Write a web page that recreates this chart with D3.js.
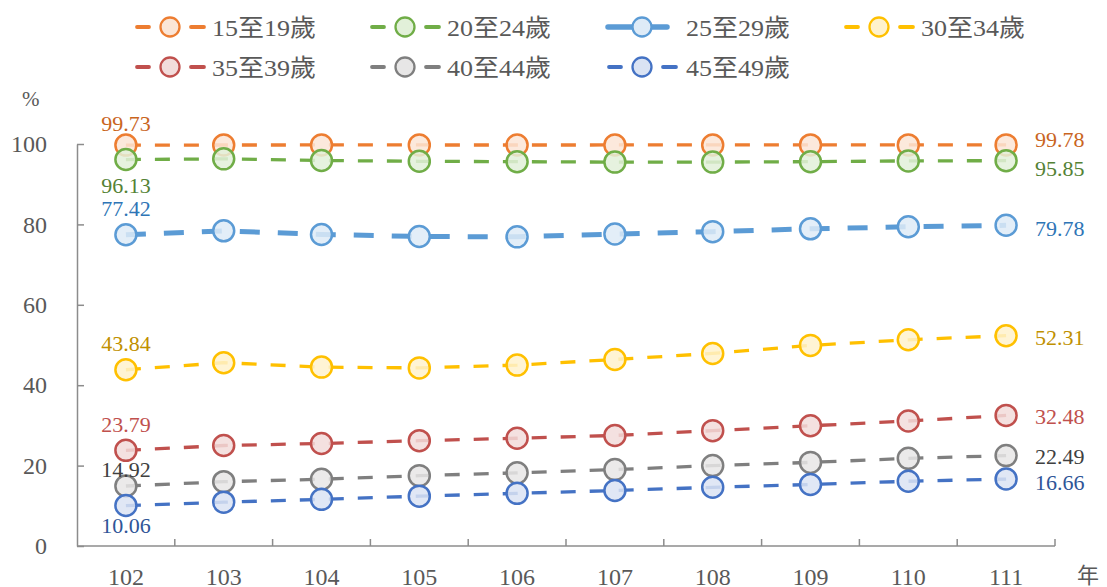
<!DOCTYPE html>
<html lang="zh-Hant">
<head>
  <meta charset="UTF-8">
  <title>各年齡層比例</title>
  <style>
    body { margin: 0; background: #fff; }
    svg text { font-family: "Liberation Serif", "Times New Roman", "Noto Sans CJK TC", serif; }
  </style>
  <script src="https://d3js.org/d3.v7.min.js"></script>
</head>
<body>
  <svg id="chart" width="1107" height="587"></svg>

  <script>
    // data
    const years = ['102', '103', '104', '105', '106', '107', '108', '109', '110', '111'];
    const seriesNames = ['15至19歲', '20至24歲', '25至29歲', '30至34歲', '35至39歲', '40至44歲', '45至49歲'];
    const s15to19 = [99.73, 99.75, 99.76, 99.76, 99.75, 99.76, 99.76, 99.77, 99.77, 99.78];
    const s20to24 = [96.13, 96.3, 95.9, 95.7, 95.6, 95.5, 95.5, 95.6, 95.8, 95.85];
    const s25to29 = [77.42, 78.4, 77.5, 77.0, 76.9, 77.6, 78.2, 78.9, 79.4, 79.78];
    const s30to34 = [43.84, 45.6, 44.5, 44.3, 45.0, 46.4, 47.9, 49.9, 51.3, 52.31];
    const s35to39 = [23.79, 25.0, 25.5, 26.2, 26.8, 27.5, 28.7, 29.9, 31.1, 32.48];
    const s40to44 = [14.92, 16.0, 16.6, 17.5, 18.2, 19.0, 20.0, 20.8, 21.8, 22.49];
    const s45to49 = [10.06, 10.9, 11.6, 12.4, 13.1, 13.8, 14.6, 15.3, 16.1, 16.66];
    const yTicks = [0, 20, 40, 60, 80, 100];

    const allValues = [s15to19, s20to24, s25to29, s30to34, s35to39, s40to44, s45to49];

    // look of each series: line colour, marker fill, label colour, line width, dash, label offsets
    const styles = [
      { c: '#ED7D31', f: '#FBE5D6', t: '#C9651E', w: 3.3, dash: '15,14', first: -22, last: -5 },
      { c: '#70AD47', f: '#E2F0D9', t: '#548235', w: 3.3, dash: '15,14', first: 26, last: 8 },
      { c: '#5B9BD5', f: '#DEEBF7', t: '#2E75B6', w: 5, dash: '20,18', first: -26, last: 3 },
      { c: '#FFC000', f: '#FFF2CC', t: '#BF9000', w: 3.3, dash: '15,14', first: -26, last: 2 },
      { c: '#C0504D', f: '#F2DCDB', t: '#C0504D', w: 3.3, dash: '15,14', first: -26, last: 1 },
      { c: '#7F7F7F', f: '#E7E6E6', t: '#404040', w: 3.3, dash: '15,14', first: -17, last: 1 },
      { c: '#4472C4', f: '#DAE3F3', t: '#2F5597', w: 3.3, dash: '15,14', first: 20, last: 3 }
    ];

    const series = seriesNames.map((name, i) => ({ name, values: allValues[i], style: styles[i] }));

    const svg = d3.select('#chart');
    const axisColor = '#8C8C8C';
    const textColor = '#595959';
    const serif = '"Liberation Serif", "Times New Roman", serif';

    const x = d3.scaleBand().domain(years).range([77, 1055]);
    const cx = d => x(d) + x.bandwidth() / 2;
    const y = d3.scaleLinear().domain([0, 100]).range([546, 144]);

    // y axis
    const yAxis = svg.append('g')
      .attr('transform', 'translate(77,0)')
      .call(d3.axisLeft(y).tickValues(yTicks).tickSizeInner(-7).tickSizeOuter(0).tickPadding(30));
    yAxis.select('.domain').attr('stroke', axisColor).attr('stroke-width', 1.5);
    yAxis.selectAll('.tick line').attr('stroke', axisColor).attr('stroke-width', 1.5);
    yAxis.selectAll('.tick text')
      .style('font-family', serif)
      .style('font-size', '24px')
      .attr('fill', textColor);

    // x axis (ticks on category boundaries, pointing up)
    const xAxis = svg.append('g').attr('transform', 'translate(0,546)');
    xAxis.append('line')
      .attr('x1', x.range()[0]).attr('x2', x.range()[1])
      .attr('stroke', axisColor).attr('stroke-width', 1.5);
    xAxis.selectAll('line.b')
      .data(years.map((d, i) => i + 1))
      .join('line')
      .attr('class', 'b')
      .attr('x1', i => x.range()[0] + i * x.step())
      .attr('x2', i => x.range()[0] + i * x.step())
      .attr('y1', 0).attr('y2', -7)
      .attr('stroke', axisColor).attr('stroke-width', 1.5);
    xAxis.selectAll('text')
      .data(years)
      .join('text')
      .attr('x', d => cx(d))
      .attr('y', 39)
      .attr('text-anchor', 'middle')
      .style('font-family', serif)
      .style('font-size', '24px')
      .attr('fill', textColor)
      .text(d => d);

    // unit labels
    svg.append('text').attr('x', 22).attr('y', 106).style('font-size', '21px').attr('fill', textColor).text('%');
    svg.append('text').attr('x', 1077).attr('y', 583).style('font-size', '22px').attr('fill', textColor).text('年');

    // lines + markers
    const line = d3.line().x((v, i) => cx(years[i])).y(v => y(v));

    series.forEach(s => {
      const g = svg.append('g');
      g.append('path')
        .datum(s.values)
        .attr('d', line)
        .attr('fill', 'none')
        .attr('stroke', s.style.c)
        .attr('stroke-width', s.style.w)
        .attr('stroke-dasharray', s.style.dash);
      g.selectAll('circle')
        .data(s.values)
        .join('circle')
        .attr('cx', (v, i) => cx(years[i]))
        .attr('cy', v => y(v))
        .attr('r', 10.5)
        .attr('fill', s.style.f)
        .attr('fill-opacity', 0.85)
        .attr('stroke', s.style.c)
        .attr('stroke-width', 2.5);
    });

    // value labels at first and last year
    series.forEach(s => {
      const n = s.values.length;
      svg.append('text')
        .attr('x', cx(years[0]))
        .attr('y', y(s.values[0]) + s.style.first)
        .attr('text-anchor', 'middle')
        .attr('dominant-baseline', 'central')
        .style('font-family', serif)
        .style('font-size', '22px')
        .attr('fill', s.style.t)
        .text(s.values[0].toFixed(2));
      svg.append('text')
        .attr('x', cx(years[n - 1]) + 29)
        .attr('y', y(s.values[n - 1]) + s.style.last)
        .attr('dominant-baseline', 'central')
        .style('font-family', serif)
        .style('font-size', '22px')
        .attr('fill', s.style.t)
        .text(s.values[n - 1].toFixed(2));
    });

    // legend: "- o - label", 25-29 has a solid thick line
    const legendCols = [170, 405, 642, 879];
    const legend = svg.append('g');
    series.forEach((s, i) => {
      const lx = legendCols[i % 4];
      const ly = i < 4 ? 27 : 67;
      const item = legend.append('g').attr('transform', `translate(${lx},${ly})`);
      const segs = i === 2 ? [[-34, 25]] : [[-33, -21], [21, 34]];
      segs.forEach(([a, b]) => {
        item.append('line')
          .attr('x1', a).attr('x2', b)
          .attr('stroke', s.style.c)
          .attr('stroke-width', s.style.w + 0.5)
          .attr('stroke-linecap', 'round');
      });
      item.append('circle')
        .attr('r', 9.5)
        .attr('fill', s.style.f)
        .attr('stroke', s.style.c)
        .attr('stroke-width', 2.3);
      item.append('text')
        .attr('x', i === 2 || i === 6 ? 44 : 42)
        .attr('y', 1)
        .attr('dominant-baseline', 'central')
        .attr('textLength', 104)
        .attr('lengthAdjust', 'spacingAndGlyphs')
        .style('font-family', '"Liberation Serif", "Noto Sans CJK TC", serif')
        .style('font-size', '24px')
        .attr('fill', textColor)
        .text(s.name);
    });
  </script>
</body>
</html>
